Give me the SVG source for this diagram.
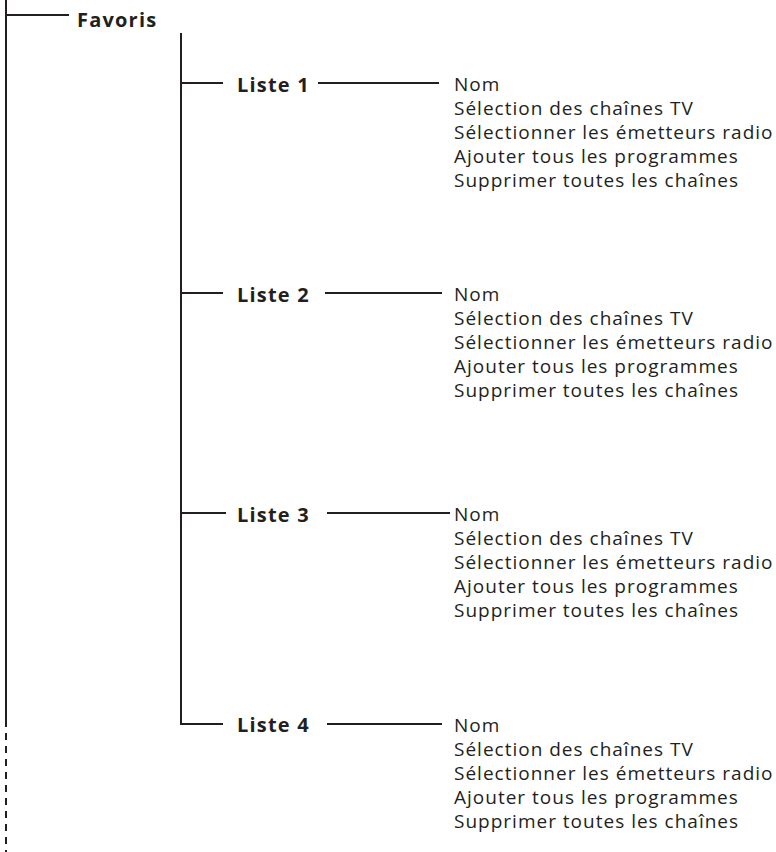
<svg xmlns="http://www.w3.org/2000/svg" width="776" height="852" viewBox="0 0 776 852">
<style>
.ln{stroke:#231f20;stroke-width:2;fill:none}
.dash{stroke:#231f20;stroke-width:2;fill:none;stroke-dasharray:7 6}
.b{font-family:"Open Sans","Liberation Sans",sans-serif;font-weight:bold;font-size:20px;letter-spacing:1.2px;fill:#231f20}
.t{font-family:"Open Sans","Liberation Sans",sans-serif;font-size:19px;letter-spacing:1px;fill:#231f20}
</style>
<rect width="776" height="852" fill="#fff"/>
<g id="connectors">
<path class="ln" d="M6 0V727"/>
<path class="dash" d="M6 733V852"/>
<path class="ln" d="M7 15H69"/>
<path class="ln" d="M181 33V725"/>
<path class="ln" d="M181 83H223M318 83H439"/>
<path class="ln" d="M181 293H223M325 293H442"/>
<path class="ln" d="M181 513H226M327 513H450"/>
<path class="ln" d="M180 724H223M327 724H442"/>
</g>
<g id="favoris"><text class="b" x="77" y="27">Favoris</text></g>
<g id="liste1"><text class="b" x="237" y="92">Liste 1</text></g>
<g id="liste1-items" class="t">
<text x="454" y="91">Nom</text>
<text x="454" y="115">Sélection des chaînes TV</text>
<text x="454" y="139">Sélectionner les émetteurs radio</text>
<text x="454" y="163">Ajouter tous les programmes</text>
<text x="454" y="187">Supprimer toutes les chaînes</text>
</g>
<g id="liste2"><text class="b" x="237" y="302">Liste 2</text></g>
<g id="liste2-items" class="t">
<text x="454" y="301">Nom</text>
<text x="454" y="325">Sélection des chaînes TV</text>
<text x="454" y="349">Sélectionner les émetteurs radio</text>
<text x="454" y="373">Ajouter tous les programmes</text>
<text x="454" y="397">Supprimer toutes les chaînes</text>
</g>
<g id="liste3"><text class="b" x="237" y="522">Liste 3</text></g>
<g id="liste3-items" class="t">
<text x="454" y="521">Nom</text>
<text x="454" y="545">Sélection des chaînes TV</text>
<text x="454" y="569">Sélectionner les émetteurs radio</text>
<text x="454" y="593">Ajouter tous les programmes</text>
<text x="454" y="617">Supprimer toutes les chaînes</text>
</g>
<g id="liste4"><text class="b" x="237" y="732">Liste 4</text></g>
<g id="liste4-items" class="t">
<text x="454" y="732">Nom</text>
<text x="454" y="756">Sélection des chaînes TV</text>
<text x="454" y="780">Sélectionner les émetteurs radio</text>
<text x="454" y="804">Ajouter tous les programmes</text>
<text x="454" y="828">Supprimer toutes les chaînes</text>
</g>
</svg>
